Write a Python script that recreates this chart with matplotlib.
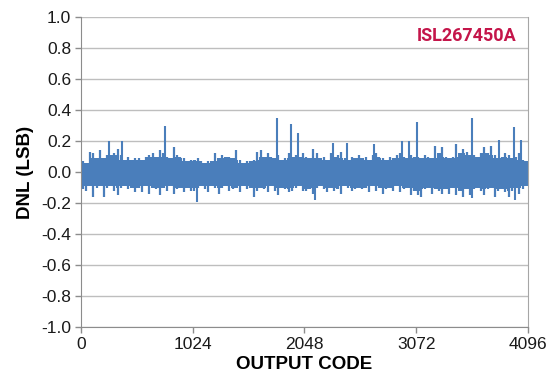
import matplotlib
matplotlib.use("Agg")
import matplotlib.pyplot as plt
import numpy as np

plt.rcParams['font.family'] = ['Liberation Sans', 'DejaVu Sans']

# DNL per output code, summarised as the max / min of each 32-code bin
BIN_SIZE = 32
bin_high = [
    0.07, 0.06, 0.13, 0.12, 0.09, 0.14, 0.09, 0.11, 0.11, 0.12, 0.15, 0.11, 0.08, 0.10, 0.08, 0.09,
    0.09, 0.08, 0.10, 0.11, 0.12, 0.10, 0.14, 0.12, 0.10, 0.09, 0.16, 0.11, 0.10, 0.09, 0.07, 0.08,
    0.08, 0.09, 0.07, 0.06, 0.07, 0.07, 0.12, 0.09, 0.11, 0.10, 0.10, 0.09, 0.14, 0.08, 0.06, 0.07,
    0.07, 0.08, 0.13, 0.14, 0.10, 0.12, 0.10, 0.09, 0.11, 0.08, 0.09, 0.12, 0.10, 0.11, 0.10, 0.12,
    0.10, 0.09, 0.15, 0.12, 0.09, 0.10, 0.08, 0.12, 0.10, 0.11, 0.13, 0.09, 0.08, 0.10, 0.09, 0.11,
    0.09, 0.10, 0.08, 0.11, 0.12, 0.10, 0.09, 0.08, 0.10, 0.09, 0.11, 0.12, 0.10, 0.09, 0.11, 0.10,
    0.10, 0.09, 0.11, 0.10, 0.09, 0.17, 0.12, 0.16, 0.10, 0.09, 0.10, 0.18, 0.12, 0.15, 0.13, 0.11,
    0.11, 0.10, 0.12, 0.16, 0.12, 0.17, 0.11, 0.09, 0.10, 0.12, 0.11, 0.09, 0.10, 0.12, 0.08, 0.07,
]
bin_low = [
    -0.11, -0.12, -0.09, -0.16, -0.10, -0.09, -0.16, -0.10, -0.09, -0.12, -0.15, -0.10, -0.09, -0.11, -0.10, -0.13,
    -0.10, -0.13, -0.09, -0.14, -0.10, -0.11, -0.15, -0.10, -0.12, -0.09, -0.14, -0.11, -0.10, -0.13, -0.10, -0.12,
    -0.12, -0.10, -0.09, -0.11, -0.13, -0.09, -0.10, -0.14, -0.10, -0.09, -0.12, -0.11, -0.10, -0.13, -0.09, -0.11,
    -0.10, -0.16, -0.12, -0.10, -0.11, -0.13, -0.09, -0.12, -0.15, -0.10, -0.11, -0.13, -0.12, -0.10, -0.09, -0.12,
    -0.12, -0.11, -0.14, -0.10, -0.09, -0.11, -0.13, -0.10, -0.12, -0.11, -0.14, -0.09, -0.10, -0.12, -0.11, -0.10,
    -0.11, -0.10, -0.13, -0.09, -0.12, -0.10, -0.14, -0.11, -0.10, -0.12, -0.09, -0.13, -0.11, -0.10, -0.15, -0.12,
    -0.15, -0.16, -0.11, -0.10, -0.14, -0.11, -0.12, -0.14, -0.11, -0.14, -0.10, -0.15, -0.12, -0.16, -0.11, -0.15,
    -0.11, -0.10, -0.12, -0.15, -0.11, -0.10, -0.16, -0.12, -0.11, -0.13, -0.16, -0.12, -0.10, -0.14, -0.11, -0.09,
]

# isolated codes that stand out of the noise band
spike_codes = [254, 376, 770, 1063, 1796, 1924, 1985, 2144, 2309, 2437, 2685,
               2941, 3005, 3076, 3580, 3585, 3836, 3967, 3977, 4029]
spike_dnl = [0.20, 0.20, 0.30, -0.19, 0.35, 0.31, 0.25, -0.18, 0.19, 0.19, 0.18,
             0.20, 0.20, 0.32, -0.17, 0.35, 0.21, 0.29, -0.18, 0.21]

x_ticks = [0, 1024, 2048, 3072, 4096]
y_ticks = [-1.0, -0.8, -0.6, -0.4, -0.2, 0.0, 0.2, 0.4, 0.6, 0.8, 1.0]

TRACE = '#4A7EBB'

fig = plt.figure(figsize=(5.51, 3.79), dpi=100)
ax = fig.add_axes([0.147, 0.137, 0.811, 0.818])

hi = np.array(bin_high)
lo = np.array(bin_low)

# solid core of the band: the range every pair of neighbouring bins shares
core_hi = np.minimum(hi, np.minimum(np.roll(hi, 1), np.roll(hi, -1)))
core_lo = np.maximum(lo, np.maximum(np.roll(lo, 1), np.roll(lo, -1)))
edges = np.arange(len(hi) + 1) * BIN_SIZE
ax.fill_between(edges, np.append(core_lo, core_lo[-1]), np.append(core_hi, core_hi[-1]),
                step='post', color=TRACE, linewidth=0)

# each bin's full min..max excursion as a thin stroke
centres = edges[:-1] + BIN_SIZE / 2
ax.vlines(centres, lo, hi, color=TRACE, linewidth=1.6)

# single-code outliers
ax.vlines(spike_codes, 0, spike_dnl, color=TRACE, linewidth=1.5)

ax.set_xlim(0, 4096)
ax.set_ylim(-1.0, 1.0)
ax.set_xticks(x_ticks)
ax.set_xticklabels([str(t) for t in x_ticks])
ax.set_yticks(y_ticks)
ax.set_yticklabels([f'{t:.1f}' for t in y_ticks])
ax.yaxis.grid(True, color='#BEBEBE', linewidth=1.0)
ax.set_axisbelow(True)

for side in ['left', 'bottom']:
    ax.spines[side].set_color('#8C8C8C')
ax.spines['right'].set_color('#A6A6A6')
ax.spines['top'].set_visible(False)
ax.tick_params(axis='both', colors='#8C8C8C', labelcolor='#1A1A1A',
               labelsize=12.5, length=4, width=1, direction='out', pad=3)

ax.set_xlabel('OUTPUT CODE', fontsize=13.5, fontweight='bold', labelpad=3)
ax.set_ylabel('DNL (LSB)', fontsize=13.5, fontweight='bold', labelpad=5)

ax.text(0.975, 0.94, 'ISL267450A', transform=ax.transAxes, ha='right', va='center',
        color='#C4154A', fontsize=13, fontweight='bold', family=['Roboto', 'DejaVu Sans'])

fig.savefig('out.png', dpi=100)
